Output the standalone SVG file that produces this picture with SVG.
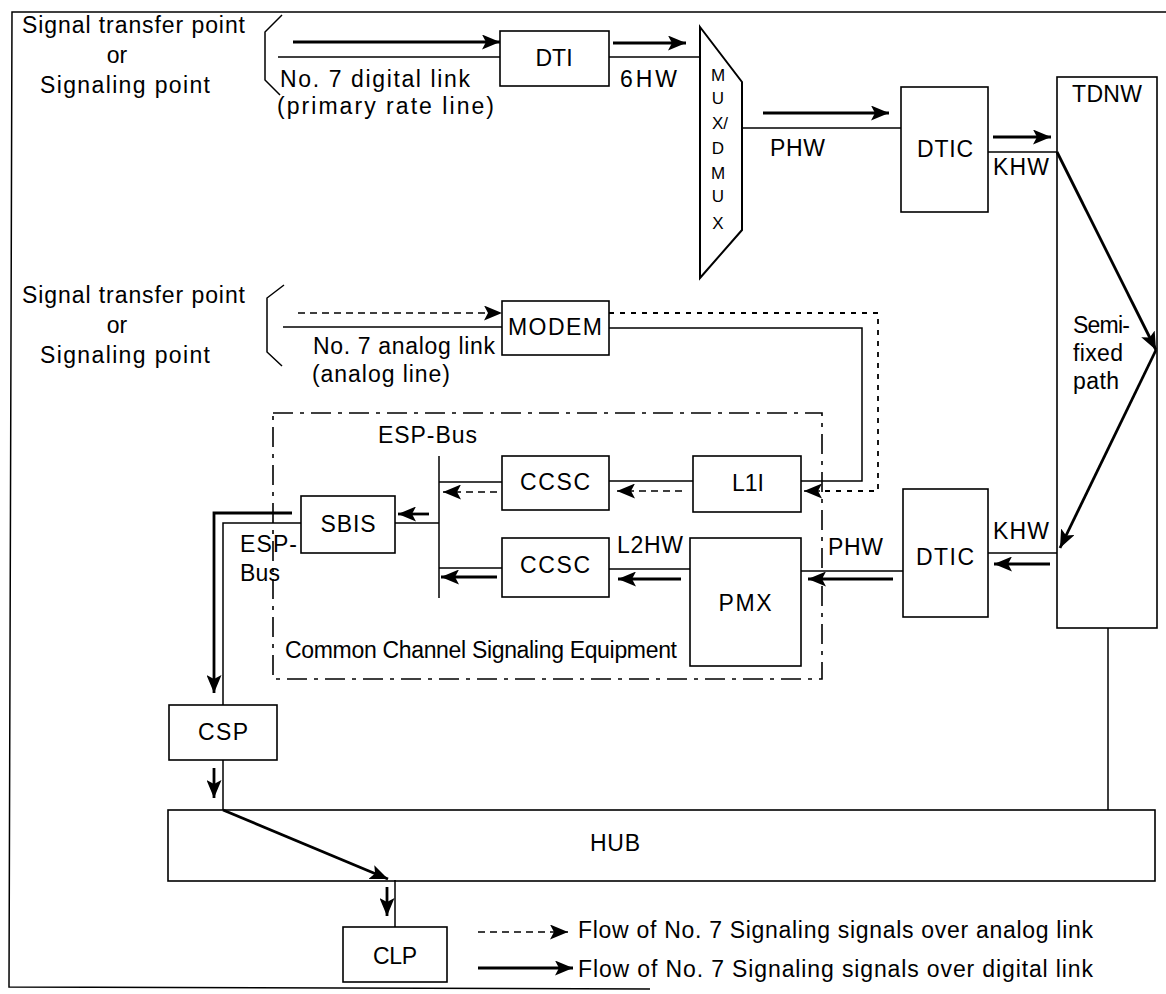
<svg xmlns="http://www.w3.org/2000/svg" width="1166" height="994" viewBox="0 0 1166 994">
<defs>
<marker id="ah" markerUnits="userSpaceOnUse" markerWidth="19" markerHeight="15" refX="18" refY="7.5" orient="auto">
<path d="M0,0 L18,7.5 L0,15 L4,7.5 z" fill="#000"/>
</marker>
<style>
.t{font-family:"Liberation Sans",Arial,Helvetica,sans-serif;font-size:23px;fill:#000}
.tm{text-anchor:middle}
.box{fill:none;stroke:#000;stroke-width:1.6}
.thin{fill:none;stroke:#000;stroke-width:1.5}
.thick{fill:none;stroke:#000;stroke-width:2.8;marker-end:url(#ah)}
.dash{fill:none;stroke:#000;stroke-width:1.6;stroke-dasharray:7 5;marker-end:url(#ah)}
.dot{fill:none;stroke:#000;stroke-width:1.8;stroke-dasharray:5 6}
.dd{fill:none;stroke:#000;stroke-width:1.6;stroke-dasharray:20 7 4 7}
</style>
</defs>
<rect x="0" y="0" width="1166" height="994" fill="#fff"/>
<g id="frame" class="thin">
<path d="M1166,12 H12 L9,987 L650,989"/>
</g>
<g id="source-digital">
<text class="t" x="22" y="33" textLength="223">Signal transfer point</text>
<text class="t tm" x="117" y="63">or</text>
<text class="t" x="40" y="93" textLength="170">Signaling point</text>
<path class="thin" d="M282,15 L265,32 V80 L280,95"/>
<text class="t" x="280" y="87" textLength="190">No. 7 digital link</text>
<text class="t" x="277" y="114" textLength="217">(primary rate line)</text>
</g>
<g id="source-analog">
<text class="t" x="22" y="303" textLength="223">Signal transfer point</text>
<text class="t tm" x="117" y="333">or</text>
<text class="t" x="40" y="363" textLength="170">Signaling point</text>
<path class="thin" d="M284,285 L267,298 V352 L282,366"/>
<text class="t" x="313" y="354" textLength="182">No. 7 analog link</text>
<text class="t" x="312" y="382" textLength="138">(analog line)</text>
</g>
<g id="DTI">
<rect class="box" x="500" y="31" width="109" height="55"/>
<text class="t tm" x="554" y="66">DTI</text>
</g>
<g id="MUX">
<path class="box" d="M700,27 L742,82 V230 L700,278 Z" style="stroke-width:2"/>
<g class="t tm" style="font-size:17px">
<text x="718" y="81">M</text>
<text x="718" y="104">U</text>
<text x="720" y="129">X/</text>
<text x="718" y="154">D</text>
<text x="718" y="179">M</text>
<text x="718" y="202">U</text>
<text x="718" y="229">X</text>
</g>
</g>
<g id="DTIC-top">
<rect class="box" x="901" y="87" width="87" height="125"/>
<text class="t tm" x="945" y="157" textLength="56">DTIC</text>
</g>
<g id="TDNW">
<rect class="box" x="1057" y="77" width="100" height="551"/>
<text class="t" x="1072" y="102" textLength="70">TDNW</text>
<text class="t" x="1073" y="333" textLength="57">Semi-</text>
<text class="t" x="1073" y="361" textLength="50">fixed</text>
<text class="t" x="1073" y="389" textLength="46">path</text>
</g>
<g id="MODEM">
<rect class="box" x="502" y="301" width="107" height="54"/>
<text class="t tm" x="555" y="335" textLength="94">MODEM</text>
</g>
<g id="CCSE">
<rect class="dd" x="273" y="413" width="549" height="266"/>
<text class="t" x="285" y="658" textLength="392">Common Channel Signaling Equipment</text>
<text class="t" x="378" y="443" textLength="99">ESP-Bus</text>
</g>
<g id="CCSC-top">
<rect class="box" x="502" y="456" width="107" height="54"/>
<text class="t tm" x="555" y="490" textLength="70">CCSC</text>
</g>
<g id="L1I">
<rect class="box" x="693" y="456" width="108" height="56"/>
<text class="t tm" x="748" y="491">L1I</text>
</g>
<g id="SBIS">
<rect class="box" x="301" y="496" width="94" height="57"/>
<text class="t tm" x="348" y="532" textLength="55">SBIS</text>
</g>
<g id="CCSC-bottom">
<rect class="box" x="502" y="538" width="107" height="59"/>
<text class="t tm" x="555" y="573" textLength="70">CCSC</text>
</g>
<g id="PMX">
<rect class="box" x="690" y="538" width="111" height="128"/>
<text class="t tm" x="745" y="611" textLength="53">PMX</text>
</g>
<g id="DTIC-bottom">
<rect class="box" x="903" y="489" width="85" height="128"/>
<text class="t tm" x="945" y="565" textLength="58">DTIC</text>
</g>
<g id="CSP">
<rect class="box" x="169" y="705" width="108" height="55"/>
<text class="t tm" x="223" y="740" textLength="50">CSP</text>
</g>
<g id="HUB">
<rect class="box" x="168" y="810" width="987" height="71"/>
<text class="t tm" x="615" y="851" textLength="50">HUB</text>
</g>
<g id="CLP">
<rect class="box" x="343" y="927" width="104" height="55"/>
<text class="t tm" x="395" y="964" textLength="44">CLP</text>
</g>
<g id="labels">
<text class="t" x="620" y="87" textLength="57">6HW</text>
<text class="t" x="770" y="156" textLength="55">PHW</text>
<text class="t" x="993" y="175" textLength="56">KHW</text>
<text class="t" x="993" y="539" textLength="56">KHW</text>
<text class="t" x="828" y="555" textLength="55">PHW</text>
<text class="t" x="617" y="553" textLength="66">L2HW</text>
<text class="t" x="240" y="552" textLength="57">ESP-</text>
<text class="t" x="240" y="581" textLength="40">Bus</text>
</g>
<g id="connectors">
<path class="thick" d="M293,42 H500"/>
<path class="thin" d="M278,57 H500"/>
<path class="thick" d="M613,43 H686"/>
<path class="thin" d="M609,57 H700"/>
<path class="thick" d="M763,113 H889"/>
<path class="thin" d="M742,128 H901"/>
<path class="thick" d="M993,137 H1051"/>
<path class="thin" d="M988,152 H1057"/>
<path class="thick" d="M1057,152 L1156,350"/>
<path class="thick" d="M1156,350 L1060,548"/>
<path class="thin" d="M1057,553 H988"/>
<path class="thick" d="M1050,564 H994"/>
<path class="thin" d="M903,571 H801"/>
<path class="thick" d="M893,579 H808"/>
<path class="thin" d="M690,569 H609"/>
<path class="thick" d="M681,579 H618"/>
<path class="thin" d="M502,568 H439"/>
<path class="thick" d="M497,577 H441"/>
<path class="thin" d="M439,456 V598"/>
<path class="thin" d="M439,523 H395"/>
<path class="thick" d="M429,514 H398"/>
<path class="thin" d="M301,523 H223 V705"/>
<path class="thick" d="M292,513 H214 V693"/>
<path class="thin" d="M223,760 V810"/>
<path class="thick" d="M214,768 V798"/>
<path class="thick" d="M223,810 L388,879"/>
<path class="thin" d="M395,880 V927"/>
<path class="thick" d="M387,887 V916"/>
<path class="thin" d="M1108,628 V810"/>
<path class="dash" d="M298,313 H502"/>
<path class="thin" d="M283,327 H502"/>
<path class="thin" d="M609,328 H862 V481 H801"/>
<path class="dot" d="M609,313 H878 V491 H820"/>
<path class="dash" d="M820,491 H804"/>
<path class="thin" d="M693,481 H609"/>
<path class="dash" d="M682,491 H617"/>
<path class="thin" d="M502,482 H439"/>
<path class="dash" d="M497,492 H443"/>
</g>
<g id="legend">
<path class="dash" d="M478,932 H568"/>
<text class="t" x="578" y="938" textLength="515">Flow of No. 7 Signaling signals over analog link</text>
<path class="thick" d="M478,968 H573"/>
<text class="t" x="578" y="977" textLength="515">Flow of No. 7 Signaling signals over digital link</text>
</g>
</svg>
